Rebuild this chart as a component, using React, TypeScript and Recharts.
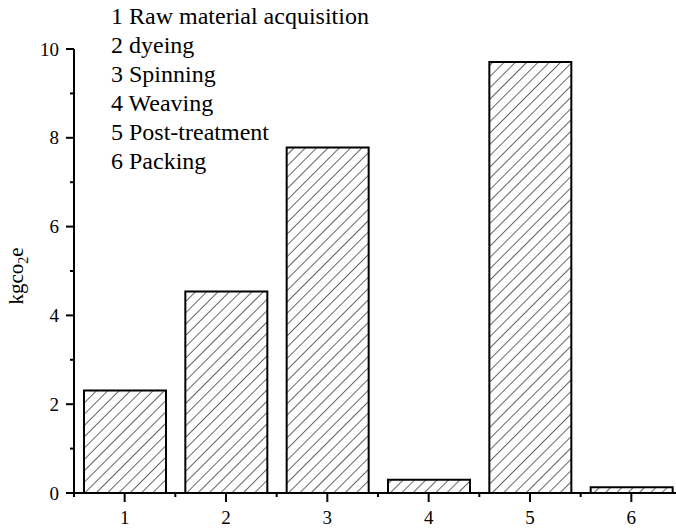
import React from "react";
import { BarChart, Bar, XAxis, YAxis } from "recharts";

const STAGES = [1, 2, 3, 4, 5, 6];
const EMISSIONS = [2.31, 4.54, 7.78, 0.3, 9.71, 0.13];
const STAGE_NAMES = [
  "Raw material acquisition",
  "dyeing",
  "Spinning",
  "Weaving",
  "Post-treatment",
  "Packing",
];
const X_TICKS = [0.5, 1, 1.5, 2, 2.5, 3, 3.5, 4, 4.5, 5, 5.5, 6, 6.5];
const Y_TICKS = [0, 1, 2, 3, 4, 5, 6, 7, 8, 9, 10];

const data = STAGES.map((s, i) => ({ stage: s, value: EMISSIONS[i] }));

const FONT = "'Liberation Serif', 'Times New Roman', serif";

function YTick({ x, y, payload }: any) {
  const major = payload.value % 2 === 0;
  return (
    <g>
      <line x1={x - (major ? 8 : 4)} x2={x} y1={y} y2={y} stroke="#000" strokeWidth={2} />
      {major && (
        <text x={x - 15} y={y} dy="0.35em" textAnchor="end" fontSize={19} fontFamily={FONT} fill="#000">
          {payload.value}
        </text>
      )}
    </g>
  );
}

function XTick({ x, y, payload }: any) {
  const major = Number.isInteger(payload.value);
  return (
    <g>
      <line x1={x} x2={x} y1={y} y2={y + (major ? 9 : 4)} stroke="#000" strokeWidth={2} />
      {major && (
        <text x={x} y={y + 24} dy="0.35em" textAnchor="middle" fontSize={19} fontFamily={FONT} fill="#000">
          {payload.value}
        </text>
      )}
    </g>
  );
}

export default function App() {
  return (
    <div
      style={{
        position: "fixed",
        left: 0,
        top: 0,
        width: 676,
        height: 528,
        overflow: "hidden",
        background: "#fff",
      }}
    >
      <div style={{ position: "absolute", left: 0, top: 0 }}>
        <BarChart width={684} height={528} data={data} margin={{ top: 49, right: 2, bottom: 0, left: 0 }}>
          <defs>
            <pattern id="hatch" patternUnits="userSpaceOnUse" width="8" height="8" patternTransform="rotate(45)">
              <rect width="8" height="8" fill="#fff" />
              <line x1="0" y1="0" x2="0" y2="8" stroke="#000" strokeWidth="1.2" />
            </pattern>
          </defs>
          <XAxis
            type="number"
            dataKey="stage"
            domain={[0.5, 6.5]}
            ticks={X_TICKS}
            interval={0}
            height={35}
            tickSize={0}
            tickMargin={0}
            tickLine={false}
            axisLine={{ stroke: "#000", strokeWidth: 2 }}
            tick={<XTick />}
          />
          <YAxis
            domain={[0, 10]}
            ticks={Y_TICKS}
            interval={0}
            width={74}
            tickSize={0}
            tickMargin={0}
            tickLine={false}
            axisLine={{ stroke: "#000", strokeWidth: 2 }}
            tick={<YTick />}
          />
          <Bar
            dataKey="value"
            barSize={82}
            fill="url(#hatch)"
            stroke="#000"
            strokeWidth={2}
            isAnimationActive={false}
          />
        </BarChart>
      </div>
      <svg
        width={676}
        height={528}
        style={{ position: "absolute", left: 0, top: 0, pointerEvents: "none" }}
      >
        {STAGE_NAMES.map((name, i) => (
          <text key={name} x={111} y={23.5 + i * 29} fontSize={24} fontFamily={FONT} fill="#000">
            {STAGES[i]} {name}
          </text>
        ))}
        <text transform="translate(23,276) rotate(-90)" textAnchor="middle" fontSize={21} fontFamily={FONT} fill="#000">
          kgco
          <tspan fontSize={14} dy={5}>2</tspan>
          <tspan dy={-5}>e</tspan>
        </text>
      </svg>
    </div>
  );
}
